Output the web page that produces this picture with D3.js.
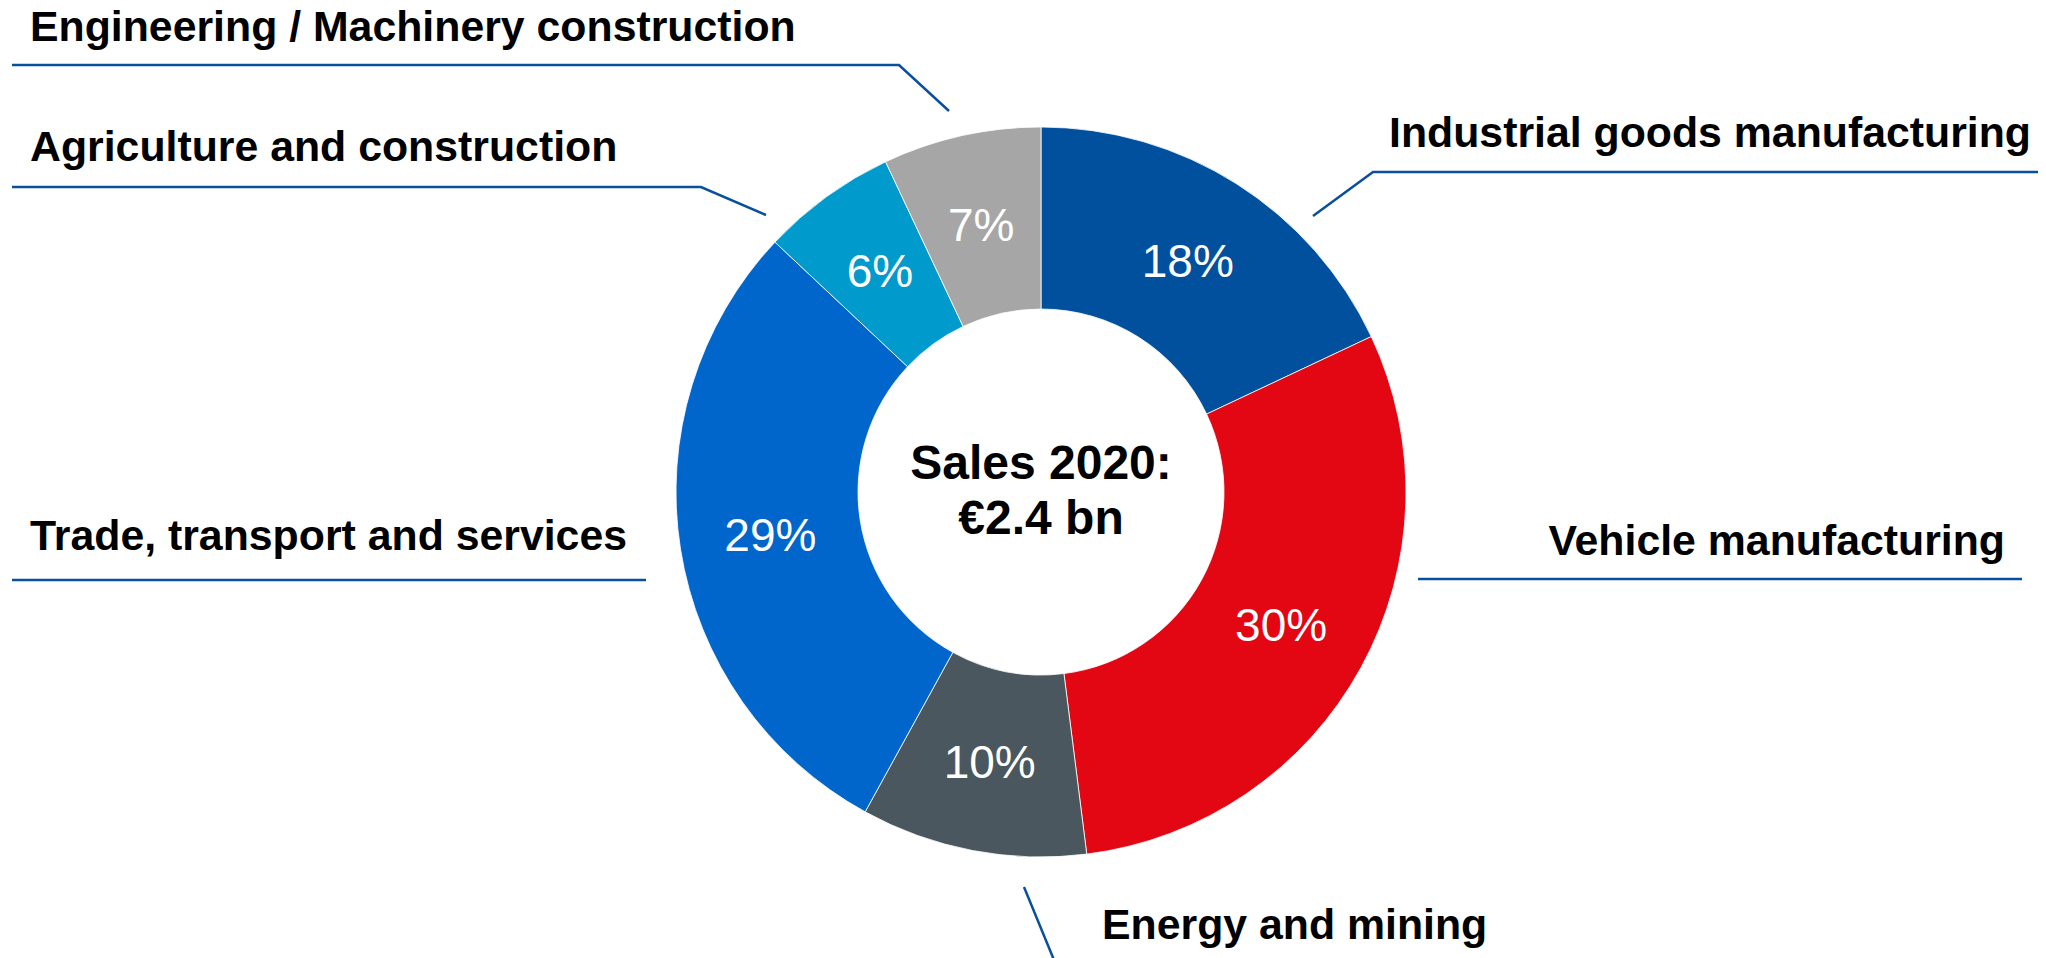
<!DOCTYPE html>
<html>
<head>
<meta charset="utf-8">
<script src="https://cdn.jsdelivr.net/npm/d3@7"></script>
<style>
  html, body { margin: 0; padding: 0; background: #ffffff; }
  svg { display: block; }
</style>
</head>
<body>
<svg id="chart" width="2046" height="958"></svg>
<script>
// ---- Data ----
const categories = [
  "Industrial goods manufacturing",
  "Vehicle manufacturing",
  "Energy and mining",
  "Trade, transport and services",
  "Agriculture and construction",
  "Engineering / Machinery construction"
];
const shares = [18, 30, 10, 29, 6, 7];
const sliceColors = ["#00509e", "#e30613", "#4a575f", "#0066cc", "#009bcc", "#a6a6a6"];
const centerLines = ["Sales 2020:", "€2.4 bn"];

// ---- Layout (annotation placement, not data) ----
const W = 2046, H = 958;
const cx = 1041, cy = 492;
const outerR = 365, innerR = 183;
const labelLayout = [
  { anchor: "end",   tx: 2031, ty: 147, line: [[1313, 216], [1373, 172], [2038, 172]] },
  { anchor: "end",   tx: 2005, ty: 555, line: [[1418, 579], [2022, 579]] },
  { anchor: "start", tx: 1102, ty: 939, line: [[1024, 887], [1054, 960]] },
  { anchor: "start", tx: 30,   ty: 550, line: [[12, 580], [646, 580]] },
  { anchor: "start", tx: 30,   ty: 161, line: [[766, 215], [701, 187], [12, 187]] },
  { anchor: "start", tx: 30,   ty: 41,  line: [[949, 111], [899, 65], [12, 65]] }
];

const svg = d3.select("#chart");
const data = categories.map((c, i) => ({ name: c, value: shares[i], color: sliceColors[i], layout: labelLayout[i] }));

const pie = d3.pie().value(d => d.value).sort(null);
const arc = d3.arc().innerRadius(innerR).outerRadius(outerR);
const arcs = pie(data);

const g = svg.append("g").attr("transform", `translate(${cx},${cy})`);

g.selectAll("path.slice")
  .data(arcs)
  .join("path")
  .attr("class", "slice")
  .attr("d", arc)
  .attr("fill", d => d.data.color)
  .attr("stroke", "#ffffff")
  .attr("stroke-width", 0.8);

g.selectAll("text.pct")
  .data(arcs)
  .join("text")
  .attr("class", "pct")
  .attr("transform", d => `translate(${arc.centroid(d)})`)
  .attr("text-anchor", "middle")
  .attr("dy", "0.36em")
  .attr("fill", "#ffffff")
  .style("font-family", "'Liberation Sans', Arial, sans-serif")
  .style("font-size", "46px")
  .text(d => d.data.value + "%");

// Center text
g.selectAll("text.center")
  .data(centerLines)
  .join("text")
  .attr("class", "center")
  .attr("text-anchor", "middle")
  .attr("x", 0)
  .attr("y", (d, i) => -13 + i * 55)
  .attr("fill", "#000000")
  .style("font-family", "'Liberation Sans', Arial, sans-serif")
  .style("font-weight", "bold")
  .style("font-size", "48px")
  .text(d => d);

// Leader lines
const lineGen = d3.line();
svg.selectAll("path.leader")
  .data(data)
  .join("path")
  .attr("class", "leader")
  .attr("d", d => lineGen(d.layout.line))
  .attr("fill", "none")
  .attr("stroke", "#0a4f9e")
  .attr("stroke-width", 2.5);

// Category labels
svg.selectAll("text.cat")
  .data(data)
  .join("text")
  .attr("class", "cat")
  .attr("x", d => d.layout.tx)
  .attr("y", d => d.layout.ty)
  .attr("text-anchor", d => d.layout.anchor)
  .attr("fill", "#000000")
  .style("font-family", "'Liberation Sans', Arial, sans-serif")
  .style("font-weight", "bold")
  .style("font-size", "42.8px")
  .text(d => d.name);
</script>
</body>
</html>
